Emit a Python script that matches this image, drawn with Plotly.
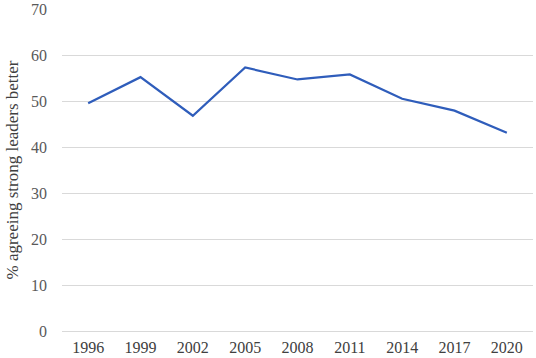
import plotly.graph_objects as go

years = ["1996", "1999", "2002", "2005", "2008", "2011", "2014", "2017", "2020"]
pct_agree = [49.6, 55.3, 46.9, 57.4, 54.8, 55.9, 50.6, 48.0, 43.2]
y_ticks = [0, 10, 20, 30, 40, 50, 60, 70]

fig = go.Figure()
fig.add_trace(go.Scatter(
    x=years, y=pct_agree, mode="lines",
    line=dict(color="#2F5DBB", width=2.2),
))

font_family = "Liberation Serif"
fig.update_layout(
    width=536, height=358,
    margin=dict(l=62, r=3, t=9, b=27, autoexpand=False),
    paper_bgcolor="white", plot_bgcolor="white",
    showlegend=False,
    font=dict(family=font_family, size=16, color="#595959"),
    xaxis=dict(
        type="category", range=[-0.5, 8.5], showgrid=False, zeroline=False,
        showline=False, ticks="", ticklabelstandoff=5, automargin=False,
        tickfont=dict(family=font_family, size=16, color="#404040"),
    ),
    yaxis=dict(
        range=[0, 70.15], tickvals=y_ticks, showgrid=True, gridcolor="#D9D9D9",
        gridwidth=1, zeroline=True, zerolinecolor="#D9D9D9", zerolinewidth=1,
        ticks="", ticklabelstandoff=14, automargin=False,
        ticklabeloverflow="allow",
        tickfont=dict(family=font_family, size=16, color="#595959"),
        title=dict(text="% agreeing strong leaders better", standoff=8,
                   font=dict(family=font_family, size=17, color="#404040")),
    ),
)

fig.write_html(
    "out.html",
    config={"displayModeBar": False},
    post_script="document.body.style.margin='0';document.body.style.overflow='hidden';",
)
